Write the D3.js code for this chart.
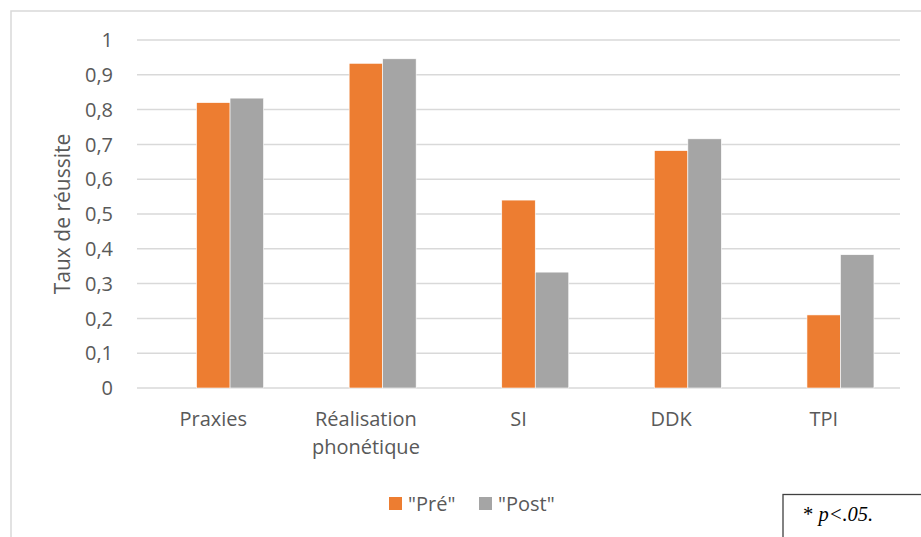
<!DOCTYPE html>
<html><head><meta charset="utf-8">
<script src="https://cdn.jsdelivr.net/npm/d3@7"></script>
<style>body{margin:0;background:#fff;} svg{display:block;}</style>
</head><body>
<script>
const categories = [["Praxies"], ["Réalisation", "phonétique"], ["SI"], ["DDK"], ["TPI"]];
const seriesNames = ["\"Pré\"", "\"Post\""];
const pre = [0.82, 0.933, 0.54, 0.682, 0.21];
const post = [0.833, 0.946, 0.333, 0.716, 0.383];
const yTicks = [0, 0.1, 0.2, 0.3, 0.4, 0.5, 0.6, 0.7, 0.8, 0.9, 1];
const colors = ["#ed7d31", "#a5a5a5"];

const W = 921, H = 537;
const svg = d3.select("body").append("svg").attr("width", W).attr("height", H);
const font = "'Open Sans', 'Noto Sans', sans-serif";
const txt = "#595959";
const fs = 20;

// chart area border
svg.append("rect").attr("x", 11).attr("y", 11).attr("width", W).attr("height", H)
  .attr("fill", "#fff").attr("stroke", "#d9d9d9").attr("stroke-width", 1.5);

const x0 = 137, x1 = 900, yTop = 40, yBot = 388;
const x = d3.scaleBand().domain(d3.range(categories.length)).range([x0, x1]).paddingInner(0).paddingOuter(0);
const y = d3.scaleLinear().domain([0, 1]).range([yBot, yTop]);
// Excel-style group with gap: three slots, the first unused
const slots = d3.scaleBand().domain([0, 1, 2]).range([0, x.bandwidth()]).paddingOuter(0.778).paddingInner(0);

// gridlines
svg.append("g").selectAll("line").data(yTicks).join("line")
  .attr("x1", x0).attr("x2", x1)
  .attr("y1", d => y(d)).attr("y2", d => y(d))
  .attr("stroke", "#d9d9d9").attr("stroke-width", 1.5);

// y tick labels
svg.append("g").selectAll("text").data(yTicks).join("text")
  .attr("x", 113).attr("y", d => y(d)).attr("dy", "0.36em")
  .attr("text-anchor", "end").attr("font-family", font).attr("font-size", fs)
  .attr("fill", txt).text(d => d3.format("")(d).replace(".", ","));

// y axis title
svg.append("text").attr("transform", `translate(70,${(yTop + yBot) / 2}) rotate(-90)`)
  .attr("text-anchor", "middle").attr("font-family", font).attr("font-size", 21)
  .attr("fill", txt).text("Taux de réussite");

const series = [pre, post];
series.forEach((vals, si) => {
  svg.append("g").selectAll("rect").data(vals).join("rect")
    .attr("x", (d, i) => x(i) + slots(si + 1))
    .attr("width", slots.bandwidth())
    .attr("y", d => y(d))
    .attr("height", d => y(0) - y(d))
    .attr("fill", colors[si])
    .attr("stroke", "#fff").attr("stroke-width", 0.6);
});

// x labels
const xl = svg.append("g").selectAll("text").data(categories).join("text")
  .attr("x", (d, i) => x(i) + x.bandwidth() / 2)
  .attr("y", 426).attr("text-anchor", "middle")
  .attr("font-family", font).attr("font-size", fs).attr("fill", txt);
xl.each(function (d, i) {
  d3.select(this).selectAll("tspan").data(d).join("tspan")
    .attr("x", x(i) + x.bandwidth() / 2)
    .attr("dy", (t, j) => j === 0 ? 0 : 28).text(t => t);
});

// legend
const legX = [389, 479];
seriesNames.forEach((n, i) => {
  svg.append("rect").attr("x", legX[i]).attr("y", 497).attr("width", 13).attr("height", 13).attr("fill", colors[i]);
  svg.append("text").attr("x", legX[i] + 19).attr("y", 503.5).attr("dy", "0.36em")
    .attr("font-family", font).attr("font-size", fs).attr("fill", txt).text(n);
});

// note box
svg.append("rect").attr("x", 783).attr("y", 494.5).attr("width", 200).attr("height", 100)
  .attr("fill", "#fff").attr("stroke", "#404040").attr("stroke-width", 1.3);
const note = svg.append("text").attr("x", 803).attr("y", 521)
  .attr("font-family", "'Liberation Serif', 'DejaVu Serif', serif").attr("font-size", 20.5).attr("fill", "#000");
note.append("tspan").text("* ");
note.append("tspan").attr("font-style", "italic").text("p<.05.");
</script>
</body></html>
